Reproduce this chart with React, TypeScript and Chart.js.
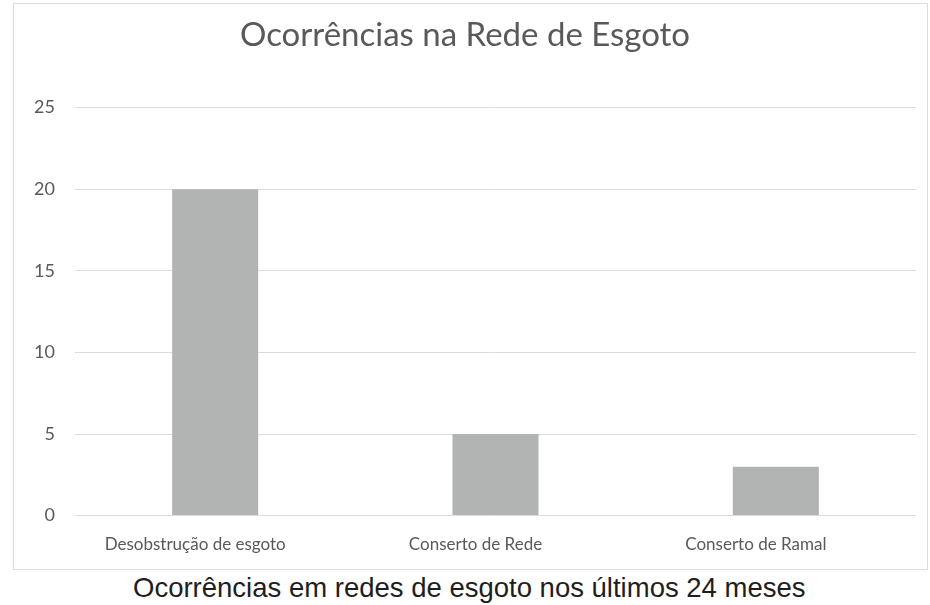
import React, { useEffect, useRef } from "react";
import { Chart, registerables } from "chart.js";

Chart.register(...registerables);

const chartTitle = "Ocorrências na Rede de Esgoto";
const caption = "Ocorrências em redes de esgoto nos últimos 24 meses";
const categories = ["Desobstrução de esgoto", "Conserto de Rede", "Conserto de Ramal"];
const occurrences = [20, 5, 3];
const yTicks = [0, 5, 10, 15, 20, 25];

export default function App() {
  const ref = useRef<HTMLCanvasElement | null>(null);

  useEffect(() => {
    if (!ref.current) return;
    const chart = new Chart(ref.current, {
      type: "bar",
      data: {
        labels: categories,
        datasets: [
          {
            label: "Ocorrências",
            data: occurrences,
            backgroundColor: "#b2b4b4",
            borderWidth: 0,
            categoryPercentage: 1,
            barPercentage: 0.307,
          },
        ],
      },
      options: {
        animation: false,
        responsive: false,
        maintainAspectRatio: false,
        layout: { padding: { left: 0, right: 11, top: 0, bottom: -5 } },
        plugins: {
          legend: { display: false },
          tooltip: { enabled: false },
          title: {
            display: true,
            text: chartTitle,
            color: "#595959",
            font: { family: "Lato", size: 33, weight: "normal" },
            padding: { top: 12, bottom: 52 },
          },
        },
        scales: {
          x: {
            grid: { display: false, drawTicks: false },
            border: { display: false },
            ticks: {
              color: "#595959",
              font: { family: "Lato", size: 17 },
              padding: 19,
              labelOffset: -20,
              maxRotation: 0,
            },
          },
          y: {
            min: 0,
            max: 25,
            afterFit: (s: any) => {
              s.width = 61;
            },
            afterBuildTicks: (s: any) => {
              s.ticks = yTicks.map((v) => ({ value: v }));
            },
            grid: { color: "#dcdcdc", lineWidth: 1, drawTicks: false },
            border: { display: false },
            ticks: {
              color: "#595959",
              font: { family: "Lato", size: 18 },
              padding: 20,
            },
          },
        },
      },
    });
    return () => chart.destroy();
  }, []);

  return (
    <div style={{ position: "absolute", left: 0, top: 0, width: 930, height: 605, background: "#fff" }}>
      <div
        style={{
          position: "absolute",
          left: 13,
          top: 3,
          width: 913,
          height: 565,
          border: "1px solid #dcdcdc",
        }}
      >
        <canvas ref={ref} width={913} height={565} style={{ display: "block", width: 913, height: 565 }} />
      </div>
      <div
        style={{
          position: "absolute",
          left: 133,
          top: 572,
          lineHeight: "32px",
          fontFamily: "'Liberation Sans', Arial, sans-serif",
          fontSize: 27.5,
          color: "#1e1e1e",
          whiteSpace: "nowrap",
        }}
      >
        {caption}
      </div>
    </div>
  );
}
